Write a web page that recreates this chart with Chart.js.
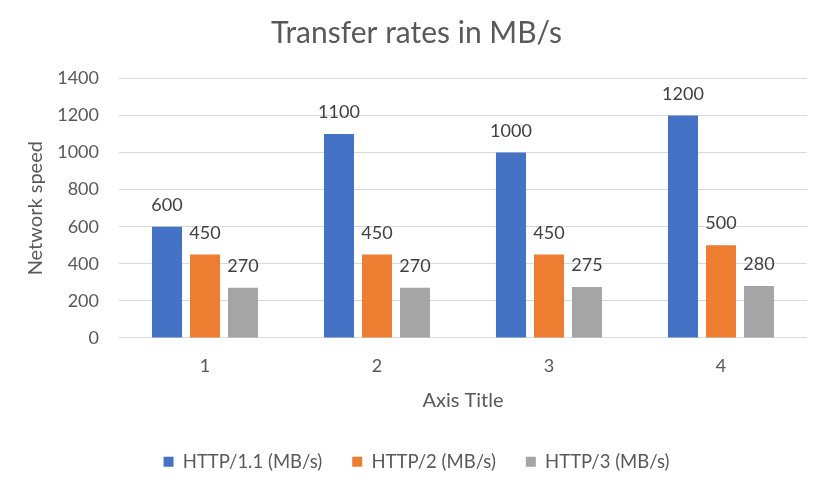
<!DOCTYPE html>
<html>
<head>
<meta charset="utf-8">
<script src="https://cdn.jsdelivr.net/npm/chart.js@4"></script>
<style>
html,body{margin:0;padding:0;background:#fff;}
#wrap{width:820px;height:486px;position:relative;}
</style>
</head>
<body>
<div id="wrap"><canvas id="c" width="820" height="486"></canvas></div>
<script>
const categories = ['1', '2', '3', '4'];
const http11 = [600, 1100, 1000, 1200];
const http2 = [450, 450, 450, 500];
const http3 = [270, 270, 275, 280];
const seriesNames = ['HTTP/1.1 (MB/s)', 'HTTP/2 (MB/s)', 'HTTP/3 (MB/s)'];
const yTicks = [0, 200, 400, 600, 800, 1000, 1200, 1400];

const FONT = 'Lato, "Open Sans", sans-serif';
const TXT = '#595959';

const valueLabels = {
  id: 'valueLabels',
  afterDatasetsDraw(chart) {
    const ctx = chart.ctx;
    ctx.save();
    ctx.font = '18px ' + FONT;
    ctx.fillStyle = '#404040';
    ctx.textAlign = 'center';
    ctx.textBaseline = 'alphabetic';
    chart.data.datasets.forEach((ds, i) => {
      const meta = chart.getDatasetMeta(i);
      meta.data.forEach((el, j) => {
        ctx.fillText(String(ds.data[j]), el.x, el.y - 16);
      });
    });
    ctx.restore();
  }
};

new Chart(document.getElementById('c'), {
  type: 'bar',
  data: {
    labels: categories,
    datasets: [
      { label: seriesNames[0], data: http11, backgroundColor: '#4472C4' },
      { label: seriesNames[1], data: http2, backgroundColor: '#ED7D31' },
      { label: seriesNames[2], data: http3, backgroundColor: '#A5A5A5' }
    ]
  },
  options: {
    responsive: false,
    animation: false,
    devicePixelRatio: 1,
    layout: { padding: { left: 13, right: 0, top: 0, bottom: 5 } },
    datasets: { bar: { categoryPercentage: 0.663, barPercentage: 0.79 } },
    plugins: {
      title: {
        display: true,
        text: 'Transfer rates in MB/s',
        color: TXT,
        font: { family: FONT, size: 30, weight: 'normal' },
        padding: { top: 15.5, bottom: 27 }
      },
      legend: {
        position: 'bottom',
        labels: {
          color: TXT,
          font: { family: FONT, size: 18.5 },
          boxWidth: 10,
          boxHeight: 10,
          padding: 30
        }
      },
      tooltip: { enabled: false }
    },
    scales: {
      x: {
        grid: { display: false },
        border: { display: false },
        ticks: { color: TXT, font: { family: FONT, size: 18 }, padding: 9 },
        title: {
          display: true, text: 'Axis Title', color: TXT,
          font: { family: FONT, size: 20 }, padding: { top: 3, bottom: 10 }
        }
      },
      y: {
        min: 0, max: 1400,
        afterBuildTicks(scale) { scale.ticks = yTicks.map(v => ({ value: v })); },
        afterFit(scale) { scale.width = 106; },
        grid: { color: '#D9D9D9', lineWidth: 1, drawTicks: false },
        border: { display: false },
        ticks: { color: TXT, font: { family: FONT, size: 18 }, padding: 20, callback: v => String(v) },
        title: {
          display: true, text: 'Network speed', color: TXT,
          font: { family: FONT, size: 20 }, padding: { top: 11, bottom: 0 }
        }
      },
      yRight: {
        position: 'right',
        display: true,
        afterFit(scale) { scale.width = 13; },
        grid: { display: false, drawTicks: false },
        border: { display: false },
        ticks: { display: false }
      }
    }
  },
  plugins: [valueLabels]
});
</script>
</body>
</html>
